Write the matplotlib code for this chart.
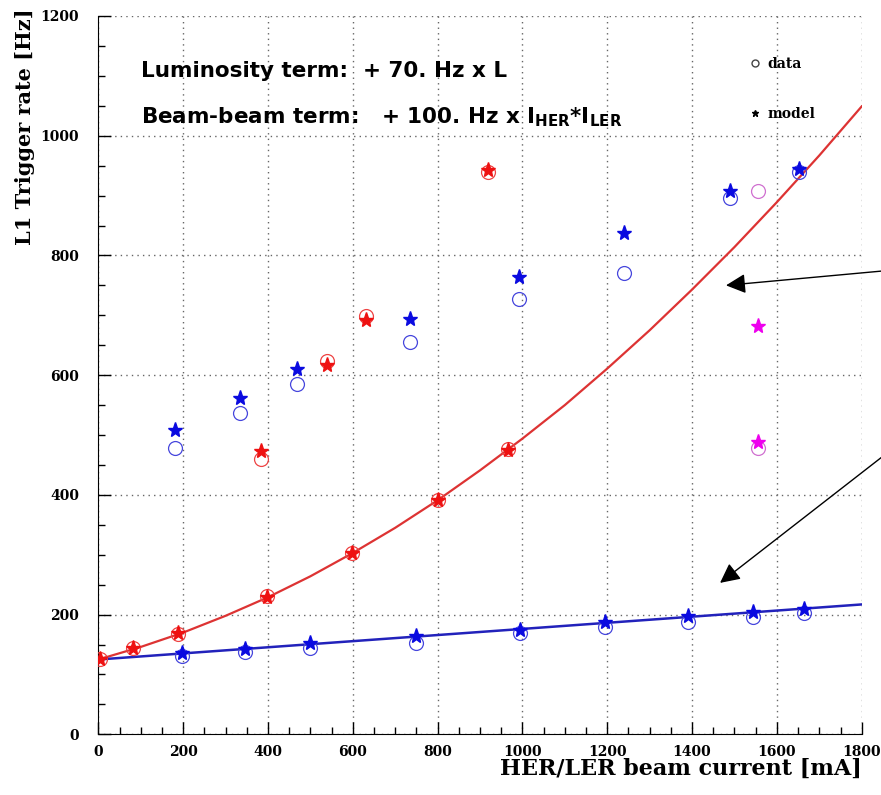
import matplotlib
matplotlib.use("Agg")
import matplotlib.pyplot as plt
from matplotlib.lines import Line2D
from matplotlib.ticker import MultipleLocator

# beam current [mA] and L1 trigger rate [Hz]
red_fit_I = [3, 82, 188, 397, 599, 800, 965]
red_fit_data = [126, 144, 168, 231, 303, 391, 476]
red_fit_model = [126, 144, 170, 230, 303, 391, 475]

red_high_I = [383, 539, 632, 920]
red_high_data = [460, 624, 698, 940]
red_high_model = [473, 617, 692, 943]

blue_high_I = [180, 333, 468, 735, 992, 1240, 1489, 1652]
blue_high_data = [479, 536, 585, 656, 728, 770, 896, 940]
blue_high_model = [509, 562, 611, 693, 764, 837, 907, 945]

blue_fit_I = [198, 346, 500, 748, 995, 1194, 1391, 1543, 1664]
blue_fit_data = [131, 138, 144, 152, 169, 179, 188, 196, 203]
blue_fit_model = [136, 143, 152, 164, 175, 187, 197, 204, 210]

magenta_I = [1555, 1555]
magenta_data = [908, 478]
magenta_model = [682, 488]

red_curve_I = [0, 100, 200, 300, 400, 500, 600, 700, 800, 900,
               1000, 1100, 1200, 1300, 1400, 1500, 1600, 1700, 1800]
red_curve_rate = [125, 146, 170, 198, 229, 264, 303, 345, 391, 441,
                  494, 550, 611, 675, 743, 814, 889, 967, 1049]

blue_curve_I = [0, 1800]
blue_curve_rate = [125, 217]

plt.rcParams["mathtext.fontset"] = "dejavusans"

serif = dict(family="DejaVu Serif", weight="bold")
sans = dict(family="DejaVu Sans", weight="bold")

fig = plt.figure(figsize=(8.81, 7.95), dpi=100)
ax = fig.add_axes([0.1116, 0.0763, 0.8665, 0.9036])

ax.plot(red_curve_I, red_curve_rate, color="#dd3333", lw=1.6, zorder=2)
ax.plot(blue_curve_I, blue_curve_rate, color="#2222bb", lw=1.8, zorder=2)


def points(x, d, m, cdata, cmodel):
    ax.plot(x, d, "o", ms=10, mfc="none", mec=cdata, mew=0.9, ls="none", zorder=3)
    ax.plot(x, m, "*", ms=11, color=cmodel, ls="none", zorder=4)


points(red_fit_I, red_fit_data, red_fit_model, "#ee4444", "#ee1111")
points(red_high_I, red_high_data, red_high_model, "#ee4444", "#ee1111")
points(blue_high_I, blue_high_data, blue_high_model, "#4646dd", "#0a0ae0")
points(blue_fit_I, blue_fit_data, blue_fit_model, "#4646dd", "#0a0ae0")
points(magenta_I, magenta_data, magenta_model, "#d070d0", "#ee00ee")

ax.set_xlim(0, 1800)
ax.set_ylim(0, 1200)
ax.xaxis.set_major_locator(MultipleLocator(200))
ax.xaxis.set_minor_locator(MultipleLocator(50))
ax.yaxis.set_major_locator(MultipleLocator(200))
ax.yaxis.set_minor_locator(MultipleLocator(50))
ax.grid(True, which="major", ls=(0, (1, 3)), color="#666666", lw=1.0)
ax.tick_params(which="major", direction="in", length=9, width=1)
ax.tick_params(which="minor", direction="in", length=5, width=1)
ax.tick_params(axis="y", pad=14)
ax.tick_params(axis="x", pad=8)
for lab in ax.get_xticklabels() + ax.get_yticklabels():
    lab.set_fontproperties(dict(serif, size=10))
for side in ["top", "right"]:
    ax.spines[side].set_visible(False)

ax.set_xlabel("HER/LER beam current [mA]", loc="right", fontsize=16, labelpad=-1, **serif)
ax.set_ylabel("L1 Trigger rate [Hz]", loc="top", fontsize=15, labelpad=4, **serif)
ax.yaxis.label.set_position((0, 1.01))

ax.text(0.056, 0.915, "Luminosity term:  + 70. Hz x L", transform=ax.transAxes,
        fontsize=15.5, va="baseline", **sans)
ax.text(0.056, 0.851, r"Beam-beam term:   + 100. Hz x I$_{\mathbf{HER}}$*I$_{\mathbf{LER}}$",
        transform=ax.transAxes, fontsize=15.5, va="baseline", **sans)

handles = [Line2D([], [], marker="o", ls="none", ms=5, mfc="none", mec="#444444"),
           Line2D([], [], marker="*", ls="none", ms=5, color="black")]
ax.legend(handles, ["data", "model"], loc="upper left", bbox_to_anchor=(0.835, 0.960),
          frameon=False, labelspacing=2.6, handlelength=1.0, handletextpad=0.4,
          prop=dict(serif, size=10))

arrow = dict(arrowstyle="-|>,head_length=0.6,head_width=0.3", color="black",
             lw=1.0, mutation_scale=20, shrinkA=0, shrinkB=0)
ax.annotate("", xy=(1480, 750), xytext=(1849, 774), arrowprops=arrow)
ax.annotate("", xy=(1466, 253), xytext=(1849, 464), arrowprops=arrow)

fig.savefig("out.png", dpi=100)
